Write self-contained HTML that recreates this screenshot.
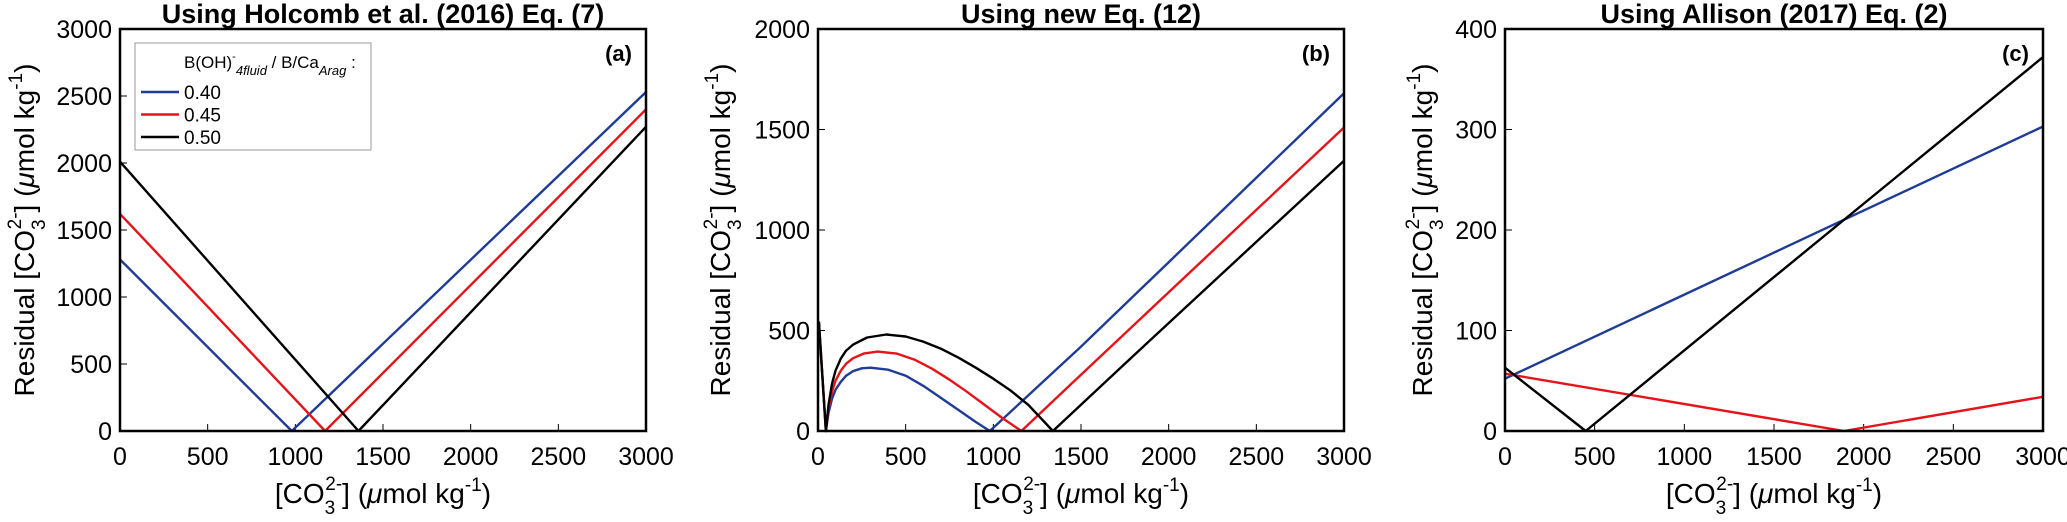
<!DOCTYPE html>
<html><head><meta charset="utf-8"><style>
body{margin:0;background:#fff;}
svg{display:block;font-family:"Liberation Sans",Arial,sans-serif;}
</style></head><body>
<svg id="fig" width="2067" height="522" viewBox="0 0 2067 522"></svg>
<script>
// ---- data ----
const xTicks=[0,500,1000,1500,2000,2500,3000];
const yTicksA=[0,500,1000,1500,2000,2500,3000];
const yTicksB=[0,500,1000,1500,2000];
const yTicksC=[0,100,200,300,400];
const seriesNames=["0.40","0.45","0.50"];
const seriesColors=["#1f3c96","#e5141b","#000000"];
// panel a
const aBlueX=[0,980,3000], aBlueY=[1280,0,2530];
const aRedX=[0,1170,3000], aRedY=[1620,0,2400];
const aBlackX=[0,1360,3000], aBlackY=[2010,0,2270];
// panel b
const bBlueX=[5,45,60,80,100,130,160,200,250,300,400,500,600,700,800,900,980,1500,2000,2500,3000];
const bBlueY=[540,0,90,160,205,245,275,298,312,315,305,275,225,165,105,45,0,420,840,1260,1680];
const bRedX=[5,45,60,80,100,130,160,200,260,340,450,550,650,750,850,950,1050,1160,1500,2000,2500,3000];
const bRedY=[540,0,110,195,250,300,335,362,385,395,385,355,310,255,195,130,65,0,280,690,1100,1510];
const bBlackX=[5,45,60,80,100,130,160,200,280,390,500,600,700,800,900,1000,1100,1200,1340,1800,2400,3000];
const bBlackY=[545,0,130,235,300,360,400,430,465,480,470,445,410,365,315,260,200,130,0,375,860,1345];
// panel c
const cBlueX=[0,3000], cBlueY=[52,303];
const cRedX=[0,1890,3000], cRedY=[57,0,34];
const cBlackX=[0,450,3000], cBlackY=[63,0,372];

const NS="http://www.w3.org/2000/svg";
const svg=document.getElementById('fig');
function mk(tag,attrs,parent){const e=document.createElementNS(NS,tag);for(const k in attrs)e.setAttribute(k,attrs[k]);(parent||svg).appendChild(e);return e;}
const AX='[CO<tspan dy="11" font-size="19">3</tspan><tspan dy="-24" dx="-10" font-size="19">2-</tspan><tspan dy="13">] (</tspan><tspan font-style="italic">μ</tspan>mol kg<tspan dy="-12" font-size="19">-1</tspan><tspan dy="12">)</tspan>';

function panel(p){
  const g=mk('g',{});
  
  
  const L=p.left,R=p.right,T=29,B=431;
  const sx=v=>L+(v-0)/(3000)*(R-L);
  const sy=v=>B-(v/p.ymax)*(B-T);
  const t=mk('text',{x:(L+R)/2,y:23,'text-anchor':'middle','font-size':27,'font-weight':'bold'},g);
  t.textContent=p.title;
  
  
  xTicks.forEach(v=>{
    const tk=mk('line',{x1:sx(v),x2:sx(v),y1:B,y2:B-7,stroke:'#000','stroke-width':1},g);
    
    
    const lb=mk('text',{x:sx(v),y:465,'text-anchor':'middle','font-size':25},g);
    lb.textContent=v;
    
    
  });
  p.yTicks.forEach(v=>{
    const tk=mk('line',{x1:L,x2:L+7,y1:sy(v),y2:sy(v),stroke:'#000','stroke-width':1},g);
    
    
    const lb=mk('text',{x:L-8,y:sy(v)+9,'text-anchor':'end','font-size':25},g);
    lb.textContent=v;
    
    
  });
  p.series.forEach((s,i)=>{
    const d=s[0].map((x,j)=>(j?'L':'M')+sx(x).toFixed(1)+','+sy(s[1][j]).toFixed(1)).join(' ');
    const pa=mk('path',{d:d,fill:'none',stroke:seriesColors[i],'stroke-width':2.4,'stroke-linejoin':'round'},g);
    
    
  });
  const fr=mk('rect',{x:L,y:T,width:R-L,height:B-T,fill:'none',stroke:'#000','stroke-width':2.5},g);
  
  
  const pl=mk('text',{x:R-14,y:61,'text-anchor':'end','font-size':22,'font-weight':'bold'},g);
  pl.textContent=p.letter;
  
  
  const xt=mk('text',{x:(L+R)/2,y:503,'text-anchor':'middle','font-size':28},g);
  xt.innerHTML=AX;
  
  
  const yt=mk('text',{x:0,y:0,'text-anchor':'middle','font-size':28,transform:`translate(${p.ytx},${(T+B)/2}) rotate(-90)`},g);
  yt.innerHTML='Residual '+AX;
  
  
  return g;
}

panel({name:'panel-a',left:120,right:646,ymax:3000,yTicks:yTicksA,title:'Using Holcomb et al. (2016) Eq. (7)',letter:'(a)',ytx:34,
  series:[[aBlueX,aBlueY],[aRedX,aRedY],[aBlackX,aBlackY]]});
panel({name:'panel-b',left:818,right:1344,ymax:2000,yTicks:yTicksB,title:'Using new Eq. (12)',letter:'(b)',ytx:730,
  series:[[bBlueX,bBlueY],[bRedX,bRedY],[bBlackX,bBlackY]]});
panel({name:'panel-c',left:1505,right:2043,ymax:400,yTicks:yTicksC,title:'Using Allison (2017) Eq. (2)',letter:'(c)',ytx:1432,
  series:[[cBlueX,cBlueY],[cRedX,cRedY],[cBlackX,cBlackY]]});

const lg=mk('g',{});


mk('rect',{x:135,y:43,width:236,height:107,fill:'#fff',stroke:'#999','stroke-width':1},lg);
const lt=mk('text',{x:184,y:68,'font-size':17},lg);
lt.innerHTML='B(OH)<tspan dy="-8" font-size="11">-</tspan><tspan dy="15" font-size="13" font-style="italic">4fluid</tspan><tspan dy="-7"> / B/Ca</tspan><tspan dy="7" font-size="13" font-style="italic">Arag</tspan><tspan dy="-7"> :</tspan>';


seriesNames.forEach((n,i)=>{
  const y=92+i*22.5;
  const ln=mk('line',{x1:141,x2:179,y1:y,y2:y,stroke:seriesColors[i],'stroke-width':2.4},lg);
  
  
  const tx=mk('text',{x:184,y:y+7,'font-size':19},lg);
  tx.textContent=n;
  
  
});
</script>
</body></html>
